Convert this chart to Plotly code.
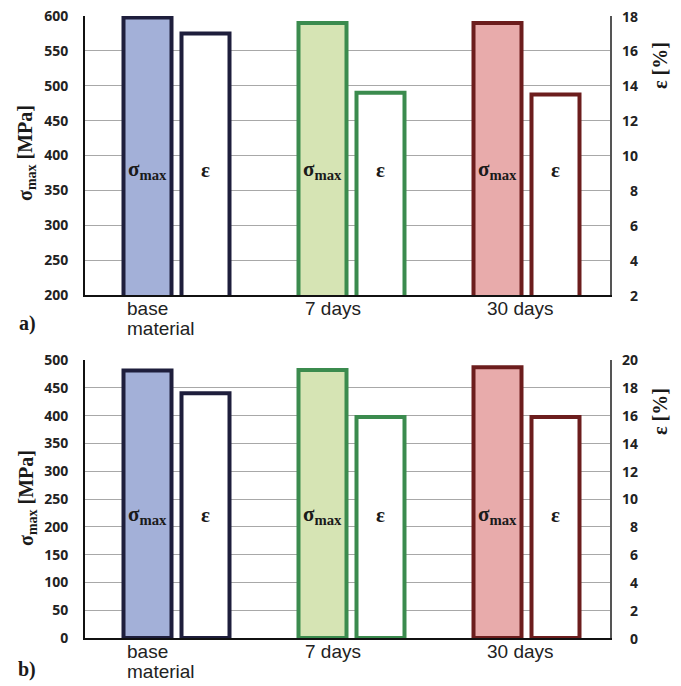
import plotly.graph_objects as go

# ---------------- data ----------------
categories = ["base<br>material", "7 days", "30 days"]
sigma_a = [598, 590, 590]        # MPa, panel a
eps_a = [17.0, 13.6, 13.5]       # %, panel a
sigma_b = [481, 482, 487]        # MPa, panel b
eps_b = [17.6, 15.9, 15.9]       # %, panel b

left_ticks_a = [200, 250, 300, 350, 400, 450, 500, 550, 600]
right_ticks_a = [2, 4, 6, 8, 10, 12, 14, 16, 18]
left_ticks_b = [0, 50, 100, 150, 200, 250, 300, 350, 400, 450, 500]
right_ticks_b = [0, 2, 4, 6, 8, 10, 12, 14, 16, 18, 20]

# ---------------- style ----------------
fill_colors = ["#A3B0D8", "#D6E4B4", "#E8ABAB"]
edge_colors = ["#1E1E3C", "#3B8B4E", "#6C1D1D"]
label_shift = [-48, -45, -38]

W, H = 681, 686

def px(x):
    return x / W

def py(y):
    return 1 - y / H

xdom = [px(85), px(610)]
ydom_a = [py(295), py(16)]
ydom_b = [py(638), py(360)]
bar_w = 48 / 175
sig_off = -49 / 175
eps_off = 9 / 175
tick_font = dict(family="Open Sans", size=14, color="#222222", weight="bold")
serif = "Liberation Serif"

fig = go.Figure()

panels = [
    ("x", "y", "y2", sigma_a, eps_a),
    ("x2", "y3", "y4", sigma_b, eps_b),
]
for xa, ya, ya2, sig, eps in panels:
    fig.add_trace(go.Bar(
        x=categories, y=sig, xaxis=xa, yaxis=ya,
        width=[bar_w] * 3, offset=[sig_off] * 3,
        marker=dict(color=fill_colors, line=dict(color=edge_colors, width=4)),
        showlegend=False, hoverinfo="y",
    ))
    fig.add_trace(go.Bar(
        x=categories, y=eps, xaxis=xa, yaxis=ya2,
        width=[bar_w] * 3, offset=[eps_off] * 3,
        marker=dict(color="white", line=dict(color=edge_colors, width=4)),
        showlegend=False, hoverinfo="y",
    ))

def xaxis_cfg(anchor):
    return dict(domain=xdom, anchor=anchor, type="category",
                categoryorder="array", categoryarray=categories,
                range=[-0.5, 2.5], showticklabels=False, ticks="",
                showline=True, linecolor="#111111", linewidth=2,
                showgrid=False, zeroline=False, fixedrange=True,
                automargin=False)

def yaxis_cfg(dom, anchor, ticks):
    return dict(domain=dom, anchor=anchor, range=[ticks[0], ticks[-1]],
                tickvals=ticks, tickfont=tick_font, ticks="",
                ticklabelstandoff=12, ticklabeloverflow="allow",
                showline=True, linecolor="#111111", linewidth=2,
                showgrid=True, gridcolor="#A8A8A8", gridwidth=1,
                zeroline=False, fixedrange=True, automargin=False)

def yaxis2_cfg(dom, anchor, overlay, ticks):
    return dict(domain=dom, anchor=anchor, overlaying=overlay, side="right",
                range=[ticks[0], ticks[-1]], tickvals=ticks,
                showticklabels=False, ticks="",
                showline=True, linecolor="#555555", linewidth=1.5,
                showgrid=False, zeroline=False, fixedrange=True,
                automargin=False)

annotations = []
for xref, yref, yref2, ticks2, lab_y, title_y, right_y, letter, letter_y in [
    ("x", "y", "y2", right_ticks_a, 0.448, py(153), py(66), "a)", py(324)),
    ("x2", "y3", "y4", right_ticks_b, 0.442, py(498), py(412), "b)", py(669)),
]:
    for i, cat in enumerate(categories):
        annotations.append(dict(
            x=i + sig_off + bar_w / 2, y=lab_y, xref=xref, yref=yref + " domain",
            xanchor="center", yanchor="middle",
            text="σ<sub>max</sub>", showarrow=False,
            font=dict(family=serif, size=21, color="#1a1a1a", weight="bold")))
        annotations.append(dict(
            x=i + eps_off + bar_w / 2, y=lab_y, xref=xref, yref=yref + " domain",
            xanchor="center", yanchor="middle",
            text="ε", showarrow=False,
            font=dict(family=serif, size=21, color="#1a1a1a", weight="bold")))
        for k, line in enumerate(cat.split("<br>")):
            annotations.append(dict(
                x=i, y=0, xref=xref, yref=yref + " domain", xanchor="left",
                yanchor="top", align="left", xshift=label_shift[i],
                yshift=-1 - 20 * k,
                text=line, showarrow=False,
                font=dict(family="Liberation Sans", size=19, color="#222222")))
    for t in ticks2:
        annotations.append(dict(
            x=px(640), y=t, xref="paper", yref=yref2, xanchor="right",
            yanchor="middle", text=str(t), showarrow=False,
            font=tick_font))
    annotations.append(dict(
        x=px(27), y=title_y, xref="paper", yref="paper", textangle=-90,
        xanchor="center", yanchor="middle",
        text="σ<sub>max</sub> [MPa]", showarrow=False,
        font=dict(family=serif, size=20, color="#1a1a1a", weight="bold")))
    annotations.append(dict(
        x=px(660), y=right_y, xref="paper", yref="paper", textangle=-90,
        xanchor="center", yanchor="middle",
        text="ε [%]", showarrow=False,
        font=dict(family=serif, size=20, color="#1a1a1a", weight="bold")))
    annotations.append(dict(
        x=px(27), y=letter_y, xref="paper", yref="paper",
        xanchor="center", yanchor="middle",
        text=letter, showarrow=False,
        font=dict(family=serif, size=20, color="#1a1a1a", weight="bold")))

fig.update_layout(
    width=W, height=H,
    margin=dict(l=0, r=0, t=0, b=0, autoexpand=False),
    paper_bgcolor="white", plot_bgcolor="white",
    barmode="overlay", showlegend=False,
    xaxis=xaxis_cfg("y"),
    yaxis=yaxis_cfg(ydom_a, "x", left_ticks_a),
    yaxis2=yaxis2_cfg(ydom_a, "x", "y", right_ticks_a),
    xaxis2=xaxis_cfg("y3"),
    yaxis3=yaxis_cfg(ydom_b, "x2", left_ticks_b),
    yaxis4=yaxis2_cfg(ydom_b, "x2", "y3", right_ticks_b),
    annotations=annotations,
)

fig.write_html(
    "out.html",
    config={"displayModeBar": False},
    post_script="document.body.style.margin='0';"
                "document.body.style.overflow='hidden';",
)
